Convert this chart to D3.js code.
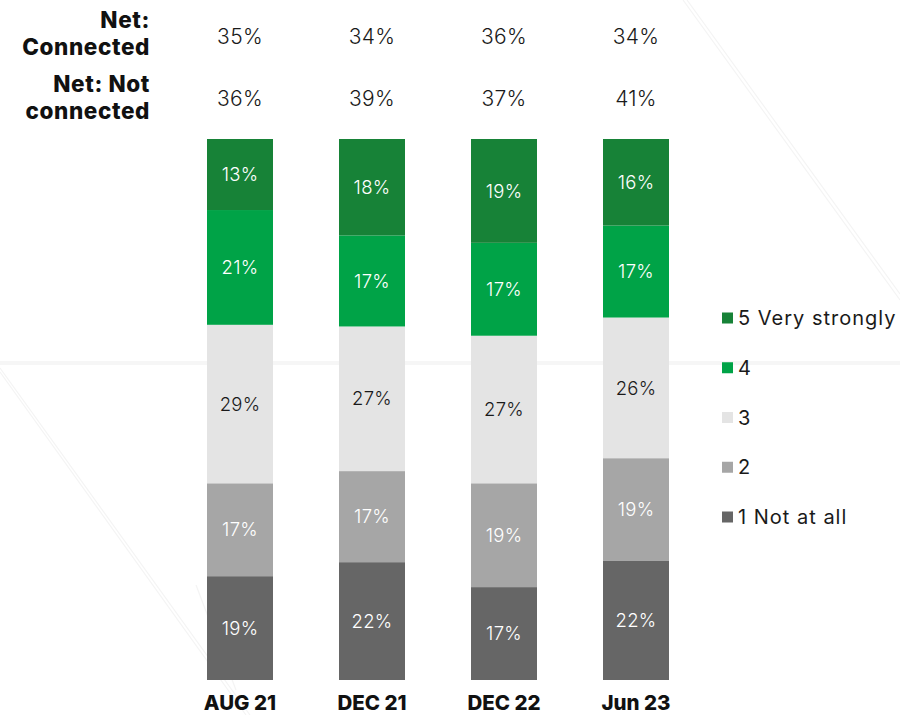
<!DOCTYPE html>
<html>
<head>
<meta charset="utf-8">
<script src="https://cdn.jsdelivr.net/npm/d3@7"></script>
<style>
  html, body { margin: 0; padding: 0; background: #fff; }
  svg { display: block; font-family: Inter, "Open Sans", sans-serif; }
</style>
</head>
<body>
<svg id="chart" width="900" height="715"></svg>
<script>
// Survey waves
const waves = ["AUG 21", "DEC 21", "DEC 22", "Jun 23"];

// Response scale, bottom to top
const levels = ["1 Not at all", "2", "3", "4", "5 Very strongly"];
const levelColors = ["#666666", "#a6a6a6", "#e4e4e4", "#00a347", "#178237"];
const labelColors = ["#ffffff", "#ffffff", "#1a1a1a", "#ffffff", "#ffffff"];

// Share of respondents per level, per wave (%)
const notAtAll = [19, 22, 17, 22];
const two      = [17, 17, 19, 19];
const three    = [29, 27, 27, 26];
const four     = [21, 17, 17, 17];
const veryStrongly = [13, 18, 19, 16];

// Summary rows
const netConnected    = [35, 34, 36, 34];
const netNotConnected = [36, 39, 37, 41];

const seriesValues = [notAtAll, two, three, four, veryStrongly];

const rows = waves.map((w, i) => {
  const r = { wave: w };
  levels.forEach((l, k) => { r[l] = seriesValues[k][i]; });
  return r;
});

const svg = d3.select("#chart");

// faint decorative background strokes
const deco = svg.append("g").attr("fill", "none");
deco.append("rect").attr("x", 0).attr("y", 361).attr("width", 900).attr("height", 4).attr("fill", "#f6f6f6");
[[683, 0, 900, 300], [687, 0, 900, 294], [0, 368, 250, 715], [0, 372, 246, 715], [196, 585, 236, 690]].forEach(d => {
  deco.append("line").attr("x1", d[0]).attr("y1", d[1]).attr("x2", d[2]).attr("y2", d[3])
    .attr("stroke", "#f4f4f4").attr("stroke-width", 1.2);
});

const x = d3.scaleBand().domain(waves).range([174, 702]).paddingInner(0.5).paddingOuter(0.25);
const y = d3.scaleLinear().domain([0, 1]).range([680, 139]);

const stack = d3.stack().keys(levels).offset(d3.stackOffsetExpand);
const stacked = stack(rows);

const layers = svg.append("g").selectAll("g").data(stacked).join("g")
  .attr("fill", (d, i) => levelColors[i]);

layers.selectAll("rect").data(d => d).join("rect")
  .attr("x", d => x(d.data.wave))
  .attr("width", x.bandwidth())
  .attr("y", d => y(d[1]))
  .attr("height", d => y(d[0]) - y(d[1]));

// segment value labels
stacked.forEach((layer, k) => {
  svg.append("g").selectAll("text").data(layer).join("text")
    .attr("x", d => x(d.data.wave) + x.bandwidth() / 2)
    .attr("y", d => (y(d[0]) + y(d[1])) / 2)
    .attr("dy", "0.36em")
    .attr("text-anchor", "middle")
    .attr("font-size", 18.5)
    .attr("font-weight", 300)
    .attr("letter-spacing", 0.3)
    .attr("fill", labelColors[k])
    .text(d => d.data[layer.key] + "%");
});

// category axis
const axis = svg.append("g").attr("transform", "translate(0,710)")
  .call(d3.axisBottom(x).tickSize(0).tickPadding(0));
axis.select(".domain").remove();
axis.selectAll("text")
  .attr("dy", 0)
  .attr("font-family", "Inter, sans-serif")
  .attr("font-size", 20.5)
  .attr("font-weight", 800)
  .attr("fill", "#111");

// summary rows
const summary = [
  { lines: ["Net:", "Connected"], baseY: 28, values: netConnected, valueY: 36 },
  { lines: ["Net: Not", "connected"], baseY: 92, values: netNotConnected, valueY: 98 }
];
summary.forEach(s => {
  const t = svg.append("text")
    .attr("x", 150).attr("y", s.baseY)
    .attr("text-anchor", "end")
    .attr("font-size", 22.5)
    .attr("font-weight", 800)
    .attr("letter-spacing", 0.6)
    .attr("fill", "#111");
  s.lines.forEach((ln, i) => {
    t.append("tspan").attr("x", 150).attr("dy", i === 0 ? 0 : 27).text(ln);
  });
  svg.append("g").selectAll("text").data(s.values).join("text")
    .attr("x", (d, i) => x(waves[i]) + x.bandwidth() / 2)
    .attr("y", s.valueY)
    .attr("dy", "0.36em")
    .attr("text-anchor", "middle")
    .attr("font-size", 21)
    .attr("font-weight", 300)
    .attr("letter-spacing", 0.3)
    .attr("fill", "#1a1a1a")
    .text(d => d + "%");
});

// legend, top level first
const legendOrder = levels.slice().reverse();
const legend = svg.append("g").selectAll("g").data(legendOrder).join("g")
  .attr("transform", (d, i) => `translate(722,${318 + i * 49.75})`);
legend.append("rect")
  .attr("x", 0).attr("y", -5.5).attr("width", 11).attr("height", 11)
  .attr("fill", d => levelColors[levels.indexOf(d)]);
legend.append("text")
  .attr("x", 16).attr("dy", "0.36em")
  .attr("font-size", 20)
  .attr("font-weight", 400)
  .attr("letter-spacing", 1)
  .attr("fill", "#1a1a1a")
  .text(d => d);
</script>
</body>
</html>
